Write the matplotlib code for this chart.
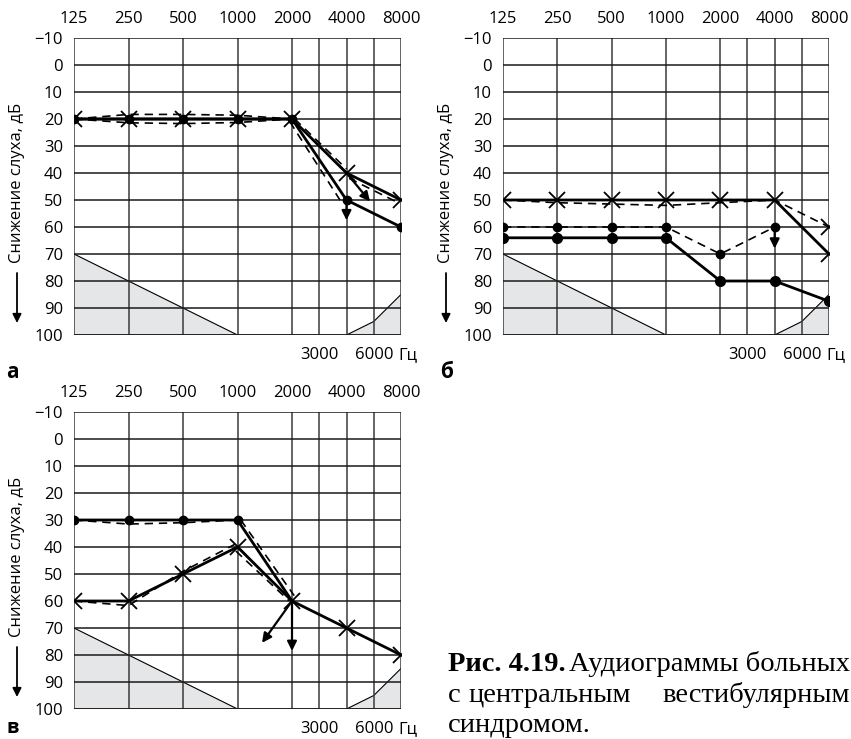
import numpy as np
import matplotlib
matplotlib.use('Agg')
import matplotlib.pyplot as plt

plt.rcParams['font.family'] = ['Open Sans', 'DejaVu Sans']

# octave positions: 125 -> 0 ... 8000 -> 6, 3000/6000 sit half way
pos = [0, 1, 2, 3, 4, 5, 6]
freq_labels = ['125', '250', '500', '1000', '2000', '4000', '8000']
grid_x = [0, 1, 2, 3, 4, 4.5, 5, 5.5, 6]
db_ticks = list(range(-10, 101, 10))
db_labels = ['−10'] + [str(v) for v in db_ticks[1:]]

# shaded zones (same on every chart)
shade_left_x = [0, 3, 0]
shade_left_y = [70, 100, 100]
shade_right_x = [5, 5.5, 6, 6]
shade_right_y = [100, 95, 85, 100]

# --- panel а ---
a_cross = [20, 20, 20, 20, 20, 40, 50]
a_dot = [20, 20, 20, 20, 20, 50, 60]
a_bone_up = [20, 18.3, 18.3, 18.6, 20]
a_bone_low = [20, 21.4, 21.7, 21.3, 20]
a_bone_hi1_x = [4.05, 5.0]
a_bone_hi1 = [20, 38.5]
a_bone_hi2_x = [3.96, 4.88]
a_bone_hi2 = [21, 50]
a_bone_hi3_x = [5.05, 5.95]
a_bone_hi3 = [42, 51]
a_arrows = [((5, 40), (5.43, 50.5)), ((5, 50), (5, 57.5))]

# --- panel б ---
b_cross = [50, 50, 50, 50, 50, 50, 70]
b_cross_dash = [50, 51, 51.5, 52, 51, 50, 60]
b_dot_dash = [60, 60, 60, 60, 70, 60]
b_dot = [64, 64, 64, 64, 80, 80, 87.5]
b_arrows = [((5, 60), (5, 68))]

# --- panel в ---
c_dot = [30, 30, 30, 30, 60]
c_dot_dash = [30, 31.5, 31, 30]
c_dot_dash2_x = [3.06, 4.04]
c_dot_dash2 = [30, 58]
c_cross = [60, 60, 50, 40, 60, 70, 80]
c_cross_dash = [60, 61.7, 49, 38.5]
c_cross_dash2_x = [2.97, 3.95]
c_cross_dash2 = [41.5, 60]
c_arrows = [((4, 60), (3.45, 75.5)), ((4, 60), (4, 78.5))]

W, H = 851, 739
fig = plt.figure(figsize=(W / 100, H / 100), dpi=100)


def px_axes(left, top, right, bottom):
    return fig.add_axes([left / W, 1 - bottom / H, (right - left) / W, (bottom - top) / H])


def setup(ax):
    ax.set_xlim(0, 6)
    ax.set_ylim(100, -10)
    ax.fill(shade_left_x, shade_left_y, color='#e5e6e8', lw=0, zorder=0)
    ax.fill(shade_right_x, shade_right_y, color='#e5e6e8', lw=0, zorder=0)
    ax.plot(shade_left_x[:2], shade_left_y[:2], color='k', lw=0.8, zorder=1)
    ax.plot(shade_right_x[:3], shade_right_y[:3], color='k', lw=0.8, zorder=1)
    for x in grid_x:
        ax.axvline(x, color='#3a3a3a', lw=1.1, zorder=1)
    for y in db_ticks:
        ax.axhline(y, color='#1a1a1a', lw=1.1, zorder=1)
    ax.axhline(100, color='#1a1a1a', lw=1.8, zorder=1)
    for s in ax.spines.values():
        s.set_visible(False)
    ax.xaxis.tick_top()
    ax.set_xticks(pos)
    ax.set_xticklabels(freq_labels, fontsize=12)
    ax.set_yticks(db_ticks)
    ax.set_yticklabels(db_labels, fontsize=12)
    ax.tick_params(length=0, pad=8)
    tr = ax.get_xaxis_transform()
    ax.text(4.5, -0.067, '3000', transform=tr, ha='center', va='center', fontsize=12)
    ax.text(5.5, -0.067, '6000', transform=tr, ha='center', va='center', fontsize=12)
    ax.text(6.12, -0.067, 'Гц', transform=tr, ha='center', va='center', fontsize=12)


def solid(ax, x, y, marker=None, ms=6):
    if marker == 'x':
        ax.plot(x, y, color='k', lw=2.0, marker='x', ms=11, mew=1.3, zorder=4)
    elif marker == 'o':
        ax.plot(x, y, color='k', lw=2.0, marker='o', ms=ms, zorder=4)
    else:
        ax.plot(x, y, color='k', lw=2.0, zorder=4)


def dashed(ax, x, y, marker=None):
    if marker == 'o':
        ax.plot(x, y, color='k', lw=1.2, dashes=(5, 3.5), marker='o', ms=6, zorder=3)
    elif marker == 'x':
        ax.plot(x, y, color='k', lw=1.2, dashes=(5, 3.5), marker='x', ms=11, mew=1.3, zorder=3)
    else:
        ax.plot(x, y, color='k', lw=1.2, dashes=(5, 3.5), zorder=3)


def arrows(ax, lst):
    for start, tip in lst:
        ax.annotate('', xy=tip, xytext=start,
                    arrowprops=dict(arrowstyle='-|>', color='k', lw=1.6,
                                    mutation_scale=14, shrinkA=0, shrinkB=0), zorder=5)


def ylabel(xc, top):
    fig.text(xc / W, 1 - (top + 145) / H, 'Снижение слуха, дБ', rotation=90,
             ha='center', va='center', fontsize=12)
    fig.add_artist(matplotlib.patches.FancyArrowPatch(
        (xc / W, 1 - (top + 235) / H), (xc / W, 1 - (top + 285) / H),
        transform=fig.transFigure, arrowstyle='-|>', mutation_scale=13,
        color='k', lw=1.3, shrinkA=0, shrinkB=0))


# panel а
ax = px_axes(74, 38, 401, 335)
setup(ax)
dashed(ax, pos[:5], a_bone_up)
dashed(ax, pos[:5], a_bone_low)
dashed(ax, a_bone_hi1_x, a_bone_hi1)
dashed(ax, a_bone_hi2_x, a_bone_hi2)
dashed(ax, a_bone_hi3_x, a_bone_hi3)
solid(ax, pos, a_dot, 'o')
solid(ax, pos, a_cross, 'x')
arrows(ax, a_arrows)
ylabel(17, 38)
fig.text(12 / W, 1 - 372 / H, 'а', fontsize=15, fontweight='bold', ha='center', va='center')

# panel б
ax = px_axes(503, 38, 829, 335)
setup(ax)
dashed(ax, pos, b_cross_dash)
dashed(ax, pos[:6], b_dot_dash, 'o')
ax.plot(pos[6], b_cross_dash[6], 'kx', ms=11, mew=1.3, zorder=4)
solid(ax, pos, b_dot, 'o', ms=7)
solid(ax, pos, b_cross, 'x')
arrows(ax, b_arrows)
ylabel(446, 38)
fig.text(447 / W, 1 - 372 / H, 'б', fontsize=15, fontweight='bold', ha='center', va='center')

# panel в
ax = px_axes(74, 412, 401, 709)
setup(ax)
dashed(ax, pos[:4], c_dot_dash)
dashed(ax, c_dot_dash2_x, c_dot_dash2)
dashed(ax, pos[:4], c_cross_dash)
dashed(ax, c_cross_dash2_x, c_cross_dash2)
solid(ax, pos[:5], c_dot)
ax.plot(pos[:4], c_dot[:4], 'ko', ms=6, zorder=4)
solid(ax, pos, c_cross, 'x')
arrows(ax, c_arrows)
ylabel(17, 412)
fig.text(13 / W, 1 - 733 / H, 'в', fontsize=14, fontweight='bold', ha='center', va='baseline')

# caption
cap = dict(family=['Liberation Serif', 'DejaVu Serif'], fontsize=20.5, va='baseline')
fig.text(448 / W, 1 - 671 / H, 'Рис. 4.19.', fontweight='bold', ha='left', **cap)
fig.text(850 / W, 1 - 671 / H, 'Аудиограммы больных', ha='right', **cap)
fig.text(448 / W, 1 - 702 / H, 'с', ha='left', **cap)
fig.text(550 / W, 1 - 702 / H, 'центральным', ha='center', **cap)
fig.text(850 / W, 1 - 702 / H, 'вестибулярным', ha='right', **cap)
fig.text(448 / W, 1 - 732 / H, 'синдромом.', ha='left', **cap)

fig.savefig('out.png', dpi=100)
